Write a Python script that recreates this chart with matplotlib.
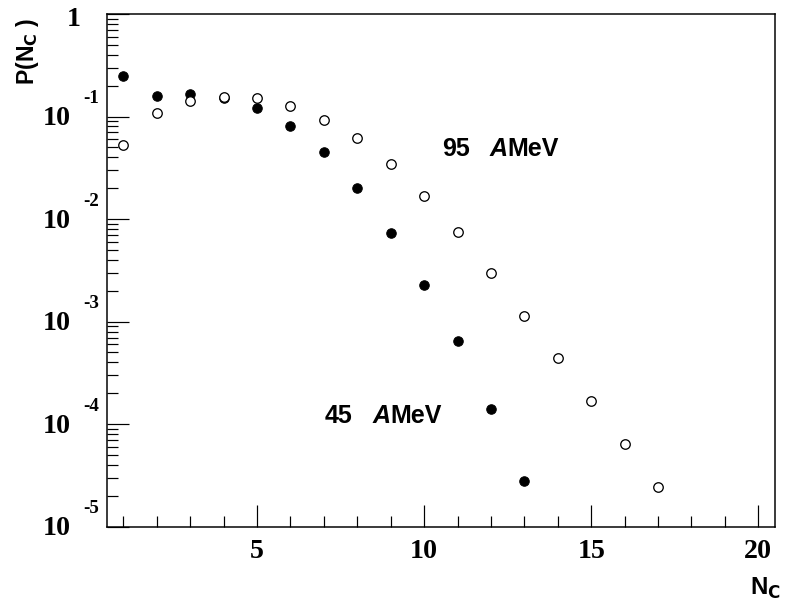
import numpy as np
import matplotlib
matplotlib.use("Agg")
import matplotlib.pyplot as plt
from matplotlib.ticker import FixedLocator, LogLocator, NullFormatter

# Charged-particle multiplicity distributions
nc_45 = [1, 2, 3, 4, 5, 6, 7, 8, 9, 10, 11, 12, 13]
p_45 = [0.250, 0.159, 0.165, 0.151, 0.121, 0.0803, 0.0454, 0.0202,
        0.00727, 0.00228, 0.000647, 0.000140, 0.0000279]

nc_95 = [1, 2, 3, 4, 5, 6, 7, 8, 9, 10, 11, 12, 13, 14, 15, 16, 17]
p_95 = [0.0528, 0.108, 0.142, 0.155, 0.151, 0.126, 0.0932, 0.0613,
        0.0347, 0.0168, 0.00748, 0.00298, 0.00114, 0.000439, 0.000168,
        0.0000645, 0.0000246]

x_major = [5, 10, 15, 20]
y_exponents = [-1, -2, -3, -4, -5]

# dpi 72 -> one point is one pixel
fig = plt.figure(figsize=(788 / 72, 601 / 72), dpi=72)
ax = fig.add_axes([0.1354, 0.1236, 0.8481, 0.8531])

ax.plot(nc_45, p_45, "o", color="black", ms=9.5, mew=1.0, mec="black", ls="none")
ax.plot(nc_95, p_95, "o", mfc="white", mec="black", ms=9.5, mew=1.3, ls="none")

ax.set_yscale("log")
ax.set_xlim(0.5, 20.5)
ax.set_ylim(1e-5, 1)

for s in ax.spines.values():
    s.set_linewidth(1.5)

ax.xaxis.set_major_locator(FixedLocator(x_major))
ax.xaxis.set_minor_locator(FixedLocator(range(1, 21)))
ax.yaxis.set_major_locator(LogLocator(base=10, numticks=10))
ax.yaxis.set_minor_locator(LogLocator(base=10, subs=np.arange(2, 10), numticks=20))
ax.tick_params(which="both", direction="in", top=False, right=False,
               width=1.2, color="black", labelleft=False, labelbottom=False)
ax.tick_params(which="major", length=22)
ax.tick_params(which="minor", length=11)
ax.xaxis.set_minor_formatter(NullFormatter())
ax.yaxis.set_minor_formatter(NullFormatter())

serif = dict(family="Liberation Serif", fontweight="bold", color="black")
sans = dict(family="Liberation Sans", fontweight="bold", color="black")

# x tick labels
for xv in x_major:
    ax.annotate(str(xv), xy=(xv, 0), xycoords=ax.get_xaxis_transform(),
                xytext=(0, -25), textcoords="offset points",
                ha="center", va="center", fontsize=28, **serif)

# y tick labels, ROOT style "10" with a detached exponent
ytr = ax.get_yaxis_transform()
ax.annotate("1", xy=(0, 1), xycoords=ytr, xytext=(-33, -5),
            textcoords="offset points", ha="center", va="center",
            fontsize=28, **serif)
for e in y_exponents:
    ax.annotate("10", xy=(0, 10.0 ** e), xycoords=ytr, xytext=(-50, -2),
                textcoords="offset points", ha="center", va="center",
                fontsize=28, **serif)
    ax.annotate(str(e), xy=(0, 10.0 ** e), xycoords=ytr, xytext=(-16, 18),
                textcoords="offset points", ha="center", va="center",
                fontsize=19, **serif)

# axis titles
fig.text(27.5 / 788, 1 - 51 / 601, r"P(N$_\mathbf{C}$ )", rotation=90,
         ha="center", va="center", fontsize=23, **sans)
fig.text(765 / 788, 1 - 588 / 601, r"N$_\mathbf{C}$",
         ha="center", va="center", fontsize=24, **sans)

# energy annotations: number, gap, italic A followed by MeV
for label, xpix, ypix in [("95", 441.7, 149), ("45", 325, 416)]:
    t = fig.text(xpix / 788, 1 - ypix / 601, label,
                 ha="left", va="center", fontsize=25, **sans)
    a = ax.annotate("A", xy=(1, 0.5), xycoords=t, xytext=(20, 0),
                    textcoords="offset points", ha="left", va="center",
                    fontsize=25, style="italic", **sans)
    ax.annotate("MeV", xy=(1, 0.5), xycoords=a, ha="left", va="center",
                fontsize=25, **sans)

fig.savefig("out.png", dpi=72)
